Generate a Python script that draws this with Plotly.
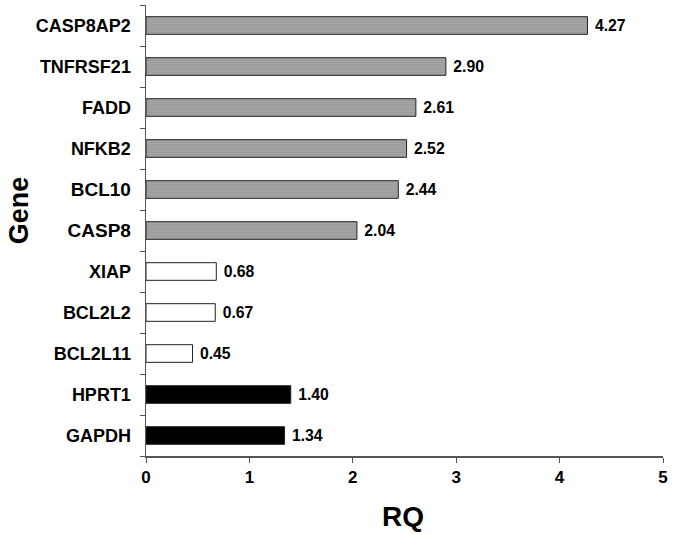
import plotly.graph_objects as go

genes = ["GAPDH", "HPRT1", "BCL2L11", "BCL2L2", "XIAP", "CASP8", "BCL10",
         "NFKB2", "FADD", "TNFRSF21", "CASP8AP2"]
rq = [1.34, 1.40, 0.45, 0.67, 0.68, 2.04, 2.44, 2.52, 2.61, 2.90, 4.27]
groups = ["ref", "ref", "down", "down", "down", "up", "up", "up", "up", "up", "up"]
x_ticks = [0, 1, 2, 3, 4, 5]
big_labels = ["CASP8", "BCL10"]

FONT = "Liberation Sans, Arial, sans-serif"


def disp(g):
    if g in big_labels:
        return f"<span style='font-size:19px'>{g}</span>"
    return g


labels = [disp(g) for g in genes]

fig = go.Figure()
for grp in ["ref", "down", "up"]:
    idx = [i for i in range(len(genes)) if groups[i] == grp]
    ys = [labels[i] for i in idx]
    xs = [rq[i] for i in idx]
    if grp == "ref":
        marker = dict(color="black", line=dict(color="#222", width=1))
    elif grp == "down":
        marker = dict(color="white", line=dict(color="#222", width=1))
    else:
        marker = dict(color="white", line=dict(color="#222", width=1),
                      pattern=dict(shape=".", size=2, solidity=0.6,
                                   fgcolor="#111", bgcolor="#d0d0d0",
                                   fillmode="overlay"))
    fig.add_trace(go.Bar(
        y=ys, x=xs, orientation="h", width=0.43,
        marker=marker,
        text=[f"\u00a0{v:.2f}" for v in xs], textposition="outside",
        textfont=dict(family=FONT, size=17, color="black", weight="bold"),
        cliponaxis=False, showlegend=False, hoverinfo="skip",
    ))

fig.update_layout(
    width=674, height=535,
    margin=dict(l=146, r=11, t=5, b=79, autoexpand=False),
    paper_bgcolor="white", plot_bgcolor="white",
    barmode="overlay",
    font=dict(family=FONT, color="black"),
    xaxis=dict(range=[0, 5], tickvals=x_ticks, showgrid=False, zeroline=False,
               showline=True, linecolor="#555", linewidth=1.5,
               ticks="outside", ticklen=5, tickcolor="#555",
               automargin=False, ticklabeloverflow="allow",
               tickfont=dict(size=17, weight="bold", family=FONT)),
    yaxis=dict(categoryorder="array", categoryarray=labels, tickson="boundaries",
               range=[-0.5, 10.5], showgrid=False, zeroline=False,
               showline=True, linecolor="#555", linewidth=1.5,
               ticks="outside", ticklen=5, tickcolor="#555",
               automargin=False, ticklabelstandoff=10,
               tickfont=dict(size=18, weight="bold", family=FONT)),
    annotations=[
        dict(text="Gene", xref="paper", yref="paper", x=-0.2456, y=0.545,
             textangle=-90, showarrow=False, xanchor="center", yanchor="middle",
             font=dict(size=27, weight="bold", family=FONT)),
        dict(text="RQ", xref="paper", yref="paper", x=0.497, y=-0.135,
             showarrow=False, xanchor="center", yanchor="middle",
             font=dict(size=28, weight="bold", family=FONT)),
    ],
)

fig.write_html("out.html",
               config={"displayModeBar": False, "staticPlot": True},
               post_script="document.body.style.margin='0px';"
                           "document.body.style.overflow='hidden';")
